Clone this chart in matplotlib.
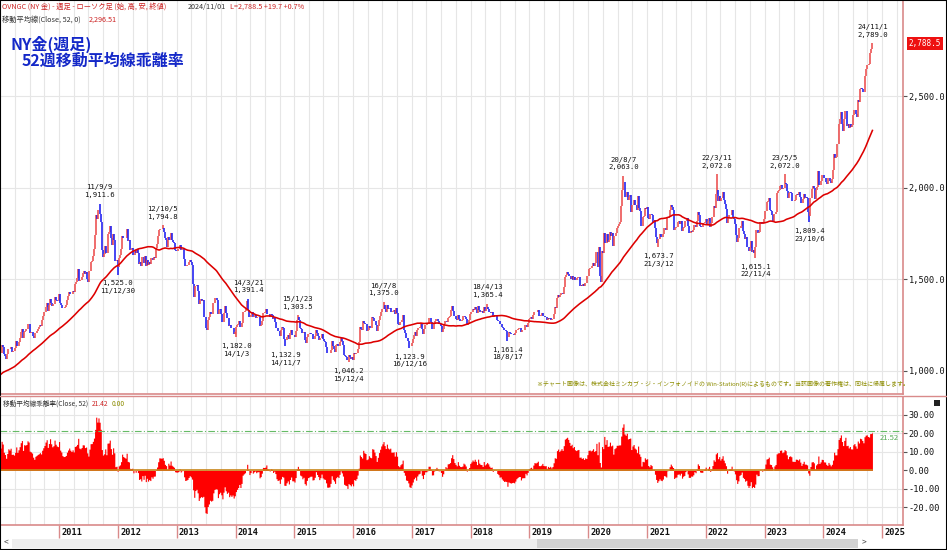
import numpy as np
import pandas as pd
import matplotlib
matplotlib.use("Agg")
import matplotlib.pyplot as plt
import matplotlib.dates as mdates
from matplotlib.patches import Rectangle

plt.rcParams["font.family"] = ["Noto Sans CJK JP", "DejaVu Sans"]

# ── weekly closes (Friday), NY gold, USD/oz ──
close_2009 = [878, 859, 837, 898, 928, 914, 941, 1002, 942, 940, 930, 954, 924,
              899, 881, 870, 907, 884, 915, 930, 958, 980, 962, 936, 921, 940,
              930, 911, 937, 953, 954, 957, 949, 941, 953, 997, 1007, 1004, 991,
              1003, 1050, 1052, 1057, 1045, 1095, 1118, 1142, 1176, 1164, 1118, 1110, 1104]
close_2010 = [1096, 1138, 1130, 1090, 1081, 1064, 1093, 1121, 1118, 1132, 1102, 1106, 1105,
              1125, 1161, 1136, 1156, 1180, 1209, 1228, 1176, 1214, 1217, 1227, 1256, 1256,
              1208, 1210, 1209, 1189, 1181, 1204, 1215, 1227, 1237, 1249, 1246, 1275, 1297,
              1318, 1346, 1368, 1325, 1357, 1394, 1367, 1352, 1363, 1405, 1384, 1378, 1380, 1421]
close_2011 = [1369, 1361, 1342, 1341, 1348, 1360, 1388, 1409, 1429, 1421, 1418, 1437,
              1429, 1474, 1486, 1504, 1556, 1492, 1493, 1509, 1536, 1542, 1529, 1539, 1501,
              1483, 1542, 1591, 1601, 1628, 1663, 1742, 1852, 1828, 1876, 1857, 1813, 1658, 1620,
              1636, 1683, 1642, 1745, 1755, 1788, 1725, 1685, 1746, 1711, 1598, 1606, 1566]
close_2012 = [1617, 1631, 1665, 1738, 1725, 1725, 1725, 1776, 1710, 1711, 1659, 1662, 1669,
              1631, 1659, 1642, 1664, 1644, 1584, 1592, 1572, 1622, 1590, 1628, 1572, 1604,
              1579, 1593, 1584, 1618, 1604, 1620, 1617, 1672, 1692, 1737, 1771, 1772, 1773,
              1781, 1759, 1724, 1712, 1677, 1731, 1714, 1752, 1713, 1704, 1697, 1657, 1656]
close_2013 = [1656, 1662, 1687, 1657, 1667, 1667, 1609, 1572, 1573, 1577, 1593, 1607, 1596,
              1575, 1476, 1405, 1462, 1470, 1436, 1365, 1386, 1392, 1383, 1387, 1292, 1234,
              1223, 1278, 1295, 1322, 1310, 1312, 1371, 1395, 1396, 1387, 1308, 1333, 1338,
              1309, 1268, 1315, 1352, 1314, 1286, 1288, 1244, 1250, 1231, 1234, 1203, 1213]
close_2014 = [1238, 1248, 1254, 1270, 1240, 1263, 1318, 1323, 1326, 1339, 1379, 1334, 1294,
              1303, 1318, 1294, 1300, 1302, 1288, 1293, 1292, 1246, 1252, 1274, 1315, 1316,
              1320, 1337, 1310, 1307, 1294, 1309, 1305, 1280, 1287, 1268, 1231, 1216, 1218,
              1192, 1222, 1238, 1231, 1172, 1169, 1185, 1197, 1175, 1205, 1222, 1196, 1195]
close_2015 = [1186, 1216, 1277, 1294, 1279, 1234, 1227, 1205, 1213, 1167, 1153, 1182, 1199,
              1201, 1204, 1203, 1175, 1175, 1189, 1225, 1205, 1190, 1168, 1179, 1201, 1173,
              1163, 1157, 1131, 1099, 1095, 1094, 1113, 1160, 1134, 1121, 1103, 1138, 1145,
              1137, 1156, 1177, 1163, 1142, 1088, 1081, 1076, 1056, 1084, 1075, 1065, 1076]
close_2016 = [1061, 1098, 1090, 1097, 1116, 1157, 1239, 1230, 1221, 1271, 1258, 1255, 1217,
              1222, 1243, 1234, 1232, 1291, 1290, 1273, 1252, 1216, 1243, 1275, 1298, 1322,
              1339, 1358, 1337, 1323, 1357, 1337, 1336, 1345, 1323, 1327, 1334, 1310, 1343, 1317,
              1257, 1251, 1266, 1276, 1304, 1225, 1208, 1178, 1177, 1162, 1137, 1133, 1152]
close_2017 = [1173, 1197, 1210, 1191, 1221, 1234, 1239, 1258, 1226, 1202, 1230, 1248, 1249,
              1256, 1288, 1289, 1268, 1228, 1228, 1254, 1270, 1281, 1271, 1256, 1256, 1242,
              1213, 1228, 1255, 1274, 1264, 1290, 1291, 1297, 1330, 1351, 1325, 1297, 1284,
              1275, 1304, 1280, 1272, 1270, 1275, 1296, 1292, 1281, 1248, 1257, 1278, 1309]
close_2018 = [1322, 1338, 1332, 1349, 1337, 1316, 1356, 1330, 1323, 1324, 1313, 1349, 1327,
              1336, 1347, 1338, 1323, 1315, 1320, 1291, 1302, 1298, 1302, 1278, 1270, 1253,
              1255, 1241, 1231, 1222, 1223, 1219, 1184, 1213, 1206, 1200, 1201, 1201, 1196,
              1207, 1222, 1229, 1235, 1235, 1210, 1223, 1223, 1222, 1252, 1241, 1258, 1283]
close_2019 = [1287, 1291, 1282, 1304, 1321, 1318, 1322, 1330, 1299, 1298, 1302, 1313, 1298,
              1295, 1295, 1276, 1288, 1281, 1287, 1276, 1285, 1311, 1346, 1344, 1399, 1413,
              1400, 1412, 1427, 1419, 1457, 1509, 1523, 1537, 1529, 1515, 1499, 1515, 1497,
              1512, 1494, 1494, 1505, 1514, 1462, 1468, 1463, 1473, 1465, 1481, 1481, 1515]
close_2020 = [1553, 1562, 1561, 1572, 1589, 1574, 1586, 1649, 1566, 1675, 1517, 1485, 1654,
              1645, 1753, 1699, 1747, 1701, 1714, 1756, 1735, 1751, 1683, 1737, 1753, 1781,
              1790, 1801, 1810, 1897, 1986, 2028, 1949, 1947, 1975, 1934, 1948, 1962, 1866,
              1907, 1930, 1906, 1905, 1880, 1952, 1888, 1873, 1788, 1840, 1843, 1889, 1883]
close_2021 = [1895, 1835, 1828, 1856, 1850, 1813, 1823, 1777, 1729, 1700, 1720, 1744, 1732,
              1729, 1744, 1780, 1777, 1768, 1832, 1838, 1877, 1906, 1892, 1879, 1769, 1781,
              1784, 1811, 1815, 1802, 1817, 1763, 1779, 1784, 1819, 1833, 1791, 1753, 1751,
              1761, 1757, 1768, 1796, 1784, 1818, 1868, 1852, 1788, 1784, 1783, 1805, 1811, 1829]
close_2022 = [1797, 1817, 1835, 1785, 1807, 1842, 1900, 1889, 1967, 1985, 1929, 1954,
              1924, 1945, 1975, 1934, 1911, 1883, 1808, 1842, 1851, 1850, 1875, 1840, 1830,
              1801, 1742, 1703, 1727, 1781, 1791, 1815, 1762, 1749, 1721, 1728, 1678, 1655, 1672,
              1709, 1648, 1657, 1645, 1676, 1771, 1754, 1755, 1810, 1810, 1800, 1804, 1826]
close_2023 = [1870, 1921, 1928, 1945, 1877, 1874, 1851, 1817, 1856, 1868, 1973, 1983, 1986,
              2011, 2015, 1990, 1999, 2025, 2019, 1981, 1944, 1970, 1977, 1971, 1929, 1929,
              1933, 1961, 1964, 1960, 1976, 1946, 1916, 1940, 1966, 1942, 1946, 1945, 1866,
              1845, 1941, 1994, 2006, 1999, 1937, 1985, 2003, 2089, 2015, 2036, 2069, 2071]
close_2024 = [2050, 2051, 2029, 2019, 2054, 2038, 2024, 2045, 2095, 2186, 2162, 2166, 2238,
              2345, 2374, 2413, 2348, 2310, 2375, 2419, 2335, 2347, 2325, 2349, 2331, 2339,
              2397, 2421, 2403, 2386, 2480, 2469, 2538, 2546, 2538, 2524, 2611, 2646, 2668,
              2667, 2677, 2736, 2755, 2788.5]

# marked highs / lows on the price panel
high_dates = ["2011-09-09", "2012-10-05", "2014-03-21", "2015-01-23", "2016-07-08",
              "2018-04-13", "2020-08-07", "2022-03-11", "2023-05-05", "2024-11-01"]
high_vals = [1911.6, 1794.8, 1391.4, 1303.5, 1375.0, 1365.4, 2063.0, 2072.0, 2072.0, 2789.0]
low_dates = ["2011-12-30", "2014-01-03", "2014-11-07", "2015-12-04", "2016-12-16",
             "2018-08-17", "2021-03-12", "2022-11-04", "2023-10-06"]
low_vals = [1525.0, 1182.0, 1132.9, 1046.2, 1123.9, 1161.4, 1673.7, 1615.1, 1809.4]

price_ticks = [1000, 1500, 2000, 2500]
dev_ticks = [-20, -10, 0, 10, 20, 30]
dev_line = 21.52
years = list(range(2011, 2026))

# ── colours ──
UP = "#ec4c4c"; DOWN = "#1c1cf0"; MA_C = "#dd0000"; DEV_C = "#ff0000"
FRAME = "#d98a8a"; GRIDC = "#e6e6e6"; OLIVE = "#8c8c00"; HDR_RED = "#cc2222"

W, H = 947, 550
def fx(x): return x / W
def fy(y): return 1 - y / H

# ── build series ──
parts = []
for yr, vals in [(2009, close_2009), (2010, close_2010), (2011, close_2011), (2012, close_2012),
                 (2013, close_2013), (2014, close_2014), (2015, close_2015), (2016, close_2016),
                 (2017, close_2017), (2018, close_2018), (2019, close_2019), (2020, close_2020),
                 (2021, close_2021), (2022, close_2022), (2023, close_2023), (2024, close_2024)]:
    idx = pd.date_range(f"{yr}-01-01", periods=len(vals), freq="W-FRI")
    parts.append(pd.Series(vals, index=idx, dtype=float))
close = pd.concat(parts)
opn = close.shift(1)
ma = close.rolling(52).mean()
dev = (close / ma - 1) * 100

lo = np.minimum(opn, close)
hi = np.maximum(opn, close)
for d, v in zip(high_dates, high_vals):
    i = close.index.get_indexer([pd.Timestamp(d)], method="nearest")[0]
    hi.iloc[i] = max(hi.iloc[i], v)
for d, v in zip(low_dates, low_vals):
    i = close.index.get_indexer([pd.Timestamp(d)], method="nearest")[0]
    lo.iloc[i] = min(lo.iloc[i], v)

vis = close.index >= "2010-01-01"
x = mdates.date2num(close.index)
colors = np.where(close.values >= opn.values, UP, DOWN)

fig = plt.figure(figsize=(W / 100, H / 100), dpi=100)
ax1 = fig.add_axes([0, fy(394), fx(903), fy(1) - fy(394)])
ax2 = fig.add_axes([0, fy(525), fx(903), fy(397) - fy(525)])

xmin = mdates.date2num(pd.Timestamp("2009-12-29"))
xmax = mdates.date2num(pd.Timestamp("2025-05-10"))
quarters = pd.date_range("2010-01-01", "2025-04-01", freq="QS")
for ax in (ax1, ax2):
    ax.set_xlim(xmin, xmax)
    for q in quarters:
        ax.axvline(mdates.date2num(q), color=GRIDC, lw=0.8, zorder=0)
    for s in ("top", "left"):
        ax.spines[s].set_visible(False)
    for s in ("right", "bottom"):
        ax.spines[s].set_color(FRAME); ax.spines[s].set_linewidth(1.2)
    ax.yaxis.tick_right()
    ax.tick_params(axis="y", direction="out", length=3, width=0.8, color="#555555",
                   labelsize=6.2, pad=1, labelcolor="#111111")

# ── price panel ──
ax1.vlines(x[vis], lo[vis], hi[vis], colors=colors[vis], lw=1.15, zorder=3)
ax1.plot(x, ma.values, color=MA_C, lw=1.15, zorder=4)
ax1.set_ylim(872.8, 3018.8)
ax1.set_yticks(price_ticks)
ax1.set_yticklabels([f"{t:,.1f}" for t in price_ticks], family="DejaVu Sans Mono")
for t in price_ticks:
    ax1.axhline(t, color=GRIDC, lw=0.8, zorder=0)
ax1.set_xticks([])

for d, v in zip(high_dates, high_vals):
    t = pd.Timestamp(d)
    ax1.annotate(f"{t.year % 100}/{t.month}/{t.day}\n{v:,.1f}", xy=(mdates.date2num(t), v),
                 xytext=(0, 4), textcoords="offset points", ha="center", va="bottom",
                 fontsize=5.2, family="DejaVu Sans Mono", linespacing=1.35, color="#111111")
for d, v in zip(low_dates, low_vals):
    t = pd.Timestamp(d)
    ax1.annotate(f"{v:,.1f}\n{t.year % 100}/{t.month}/{t.day}", xy=(mdates.date2num(t), v),
                 xytext=(0, -4), textcoords="offset points", ha="center", va="top",
                 fontsize=5.2, family="DejaVu Sans Mono", linespacing=1.35, color="#111111")

last = close.iloc[-1]
ax1.annotate(f"{last:,.1f}", xy=(1, last), xycoords=("axes fraction", "data"),
             xytext=(4, 0), textcoords="offset points", ha="left", va="center",
             fontsize=5.5, family="DejaVu Sans Mono", color="white", annotation_clip=False,
             bbox=dict(boxstyle="square,pad=0.25", fc="#ee1111", ec="none"))

# ── deviation panel ──
ax2.fill_between(x[vis], 0, dev.values[vis], step="mid", color=DEV_C, lw=0, zorder=2)
ax2.plot(x[vis], np.zeros(vis.sum()), color="#c8861a", lw=1.2, zorder=3)
ax2.axhline(dev_line, color="#66bb66", lw=0.8, ls=(0, (6, 2, 1, 2)), zorder=3)
ax2.annotate(f"{dev_line:.2f}", xy=(1, dev_line), xycoords=("axes fraction", "data"),
             xytext=(-3, -2.5), textcoords="offset points", ha="right", va="top",
             fontsize=5.5, color="#55aa55")
ax2.set_ylim(-29.6, 39.7)
ax2.set_yticks(dev_ticks)
ax2.set_yticklabels([f"{t:.2f}" for t in dev_ticks], family="DejaVu Sans Mono")
for t in dev_ticks:
    if t != 0:
        ax2.axhline(t, color=GRIDC, lw=0.8, zorder=0)
year_x = [mdates.date2num(pd.Timestamp(f"{y}-01-01")) for y in years]
ax2.set_xticks(year_x)
ax2.set_xticklabels([])
ax2.tick_params(axis="x", direction="out", length=9, width=1.0, color=FRAME)
for y, xv in zip(years, year_x):
    ax2.annotate(str(y), xy=(xv, 0), xycoords=("data", "axes fraction"),
                 xytext=(1.5, -2.5), textcoords="offset points", ha="left", va="top",
                 fontsize=6.2, family="DejaVu Sans Mono", weight="bold", color="#111111",
                 annotation_clip=False)

# separator line between panels
fig.add_artist(plt.Line2D([0, 1], [fy(396), fy(396)], color=FRAME, lw=1.0))

# ── header texts ──
hs = 5.2
fig.text(fx(2), fy(7), "OVNGC (NY 金) - 週足 - ローソク足 (始, 高, 安, 終値)", fontsize=hs,
         color=HDR_RED, va="center")
fig.text(fx(188), fy(7), "2024/11/01", fontsize=hs, color="#333333", va="center")
fig.text(fx(230), fy(7), "L=2,788.5 +19.7 +0.7%", fontsize=hs, color=HDR_RED, va="center")
fig.text(fx(2), fy(20), "移動平均線(Close, 52, 0)", fontsize=hs, color="#333333", va="center")
fig.text(fx(89), fy(20), "2,296.51", fontsize=hs, color=HDR_RED, va="center")
fig.text(fx(10), fy(44), "NY金(週足)", fontsize=11.5, weight="bold", color="#1428c8", va="center")
fig.text(fx(22), fy(61), "52週移動平均線乖離率", fontsize=11.5, weight="bold", color="#1428c8",
         va="center")
fig.text(fx(3), fy(404), "移動平均線乖離率(Close, 52)", fontsize=4.8, color="#333333", va="center")
fig.text(fx(92), fy(404), "21.42", fontsize=4.8, color=HDR_RED, va="center")
fig.text(fx(112), fy(404), "0.00", fontsize=4.8, color=OLIVE, va="center")
fig.text(fx(537), fy(384), "※チャート画像は、株式会社ミンカブ・ジ・インフォノイドの Win-Station(R)によるものです。"
         "当該画像の著作権は、同社に帰属します。", fontsize=4.3, color=OLIVE, va="center")

# ── window chrome: scrollbar, icon, frame ──
fig.patches.append(Rectangle((fx(12), fy(548)), fx(525), fy(539) - fy(548),
                             transform=fig.transFigure, fc="#eeeeee", ec="none"))
fig.patches.append(Rectangle((fx(537), fy(548)), fx(321), fy(539) - fy(548),
                             transform=fig.transFigure, fc="#d2d2d2", ec="none"))
fig.text(fx(4), fy(543), "<", fontsize=6, color="#444444", va="center")
fig.text(fx(862), fy(543), ">", fontsize=6, color="#444444", va="center")
fig.patches.append(Rectangle((fx(934), fy(406)), fx(6), fy(400) - fy(406),
                             transform=fig.transFigure, fc="#222222", ec="none"))
fig.patches.append(Rectangle((0, 0), 1, 1, transform=fig.transFigure, fill=False,
                             ec="black", lw=1.5))

fig.savefig("out.png", dpi=100)
